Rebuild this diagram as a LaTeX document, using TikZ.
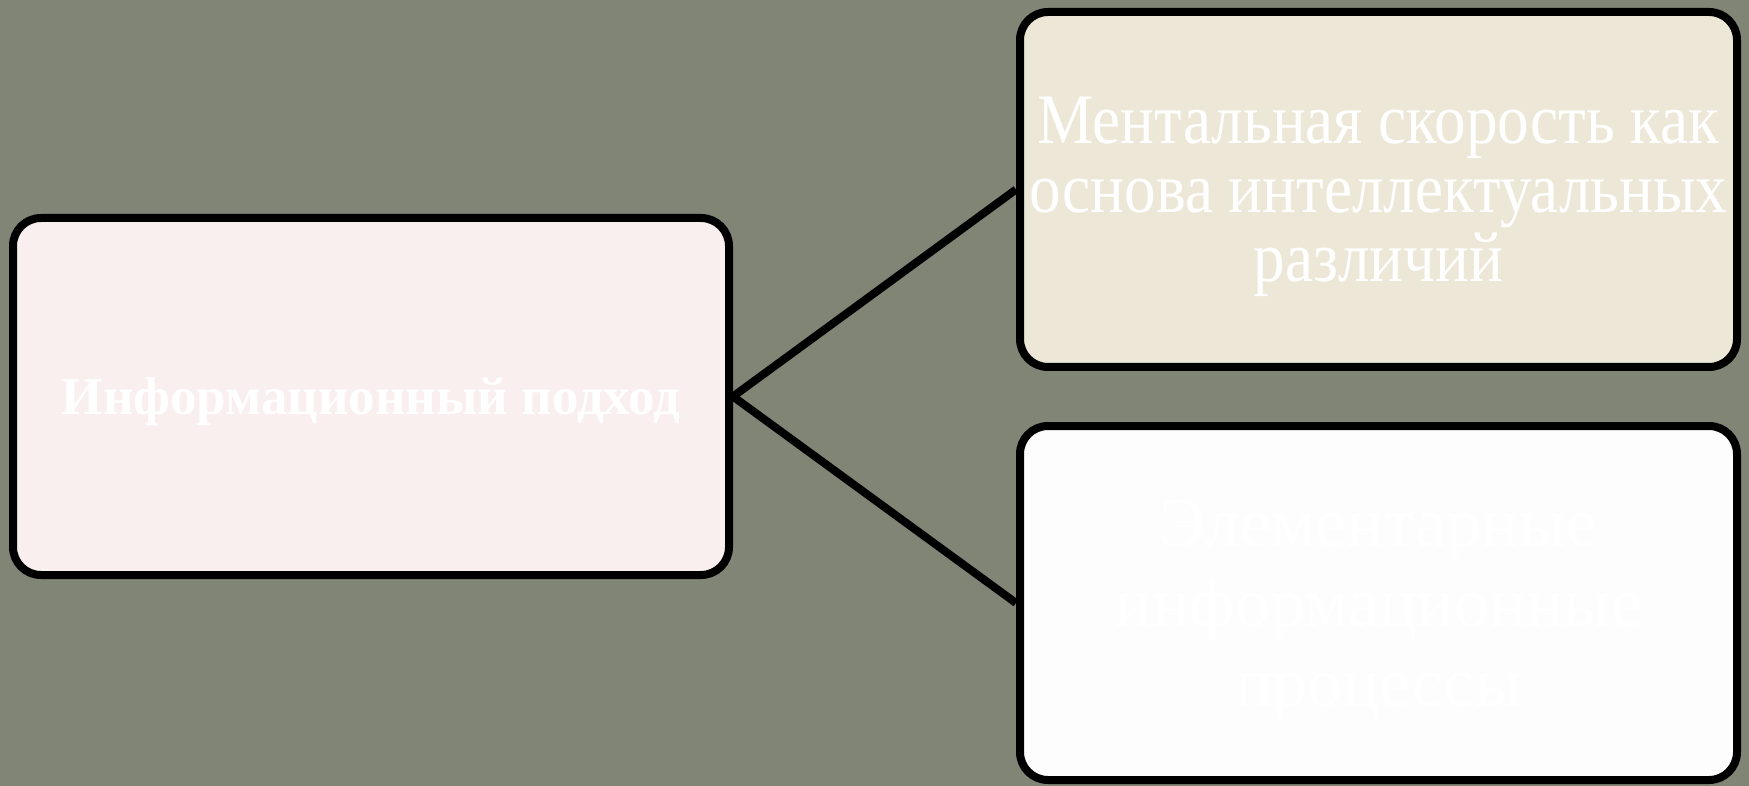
\documentclass[tikz,border=0pt]{standalone}
\usepackage{fontspec}
\setmainfont{Liberation Serif}
\newfontfamily\boxfont{Liberation Serif}
\newfontfamily\narrowfont[FakeStretch=0.89]{Liberation Serif}
\definecolor{bgolive}{RGB}{128,133,117}
\definecolor{fillpink}{RGB}{249,239,239}
\definecolor{fillbeige}{RGB}{236,231,214}
\definecolor{fillwhite}{RGB}{253,253,253}
\begin{document}
\begin{tikzpicture}[x=1pt,y=-1pt,
  card/.style={draw=black,line width=8pt,rounded corners=28pt,
    minimum width=717pt,minimum height=355pt,inner sep=0pt,
    align=center,text=white,font=\boxfont,text depth=0pt},
  link/.style={draw=black,line width=8pt}]
\fill[bgolive] (0,0) rectangle (1749,786);
\useasboundingbox (0,0) rectangle (1749,786);
\node[card,fill=fillpink,minimum width=716pt,minimum height=357pt,
  font=\boxfont\bfseries\fontsize{53}{60}\selectfont] (src) at (371,396.5)
  {Информационный подход};
\node[card,fill=fillbeige,font=\narrowfont\fontsize{71}{69}\selectfont] (top) at (1378.5,189.5)
  {Ментальная скорость как\\основа интеллектуальных\\различий};
\node[card,fill=fillwhite,minimum height=354pt,font=\boxfont\fontsize{70}{80}\selectfont] (bot) at (1378.5,603)
  {Элементарные\\информационные\\процессы};
\draw[link] (src.east) -- (top.west);
\draw[link] (src.east) -- (bot.west);
\end{tikzpicture}
\end{document}
